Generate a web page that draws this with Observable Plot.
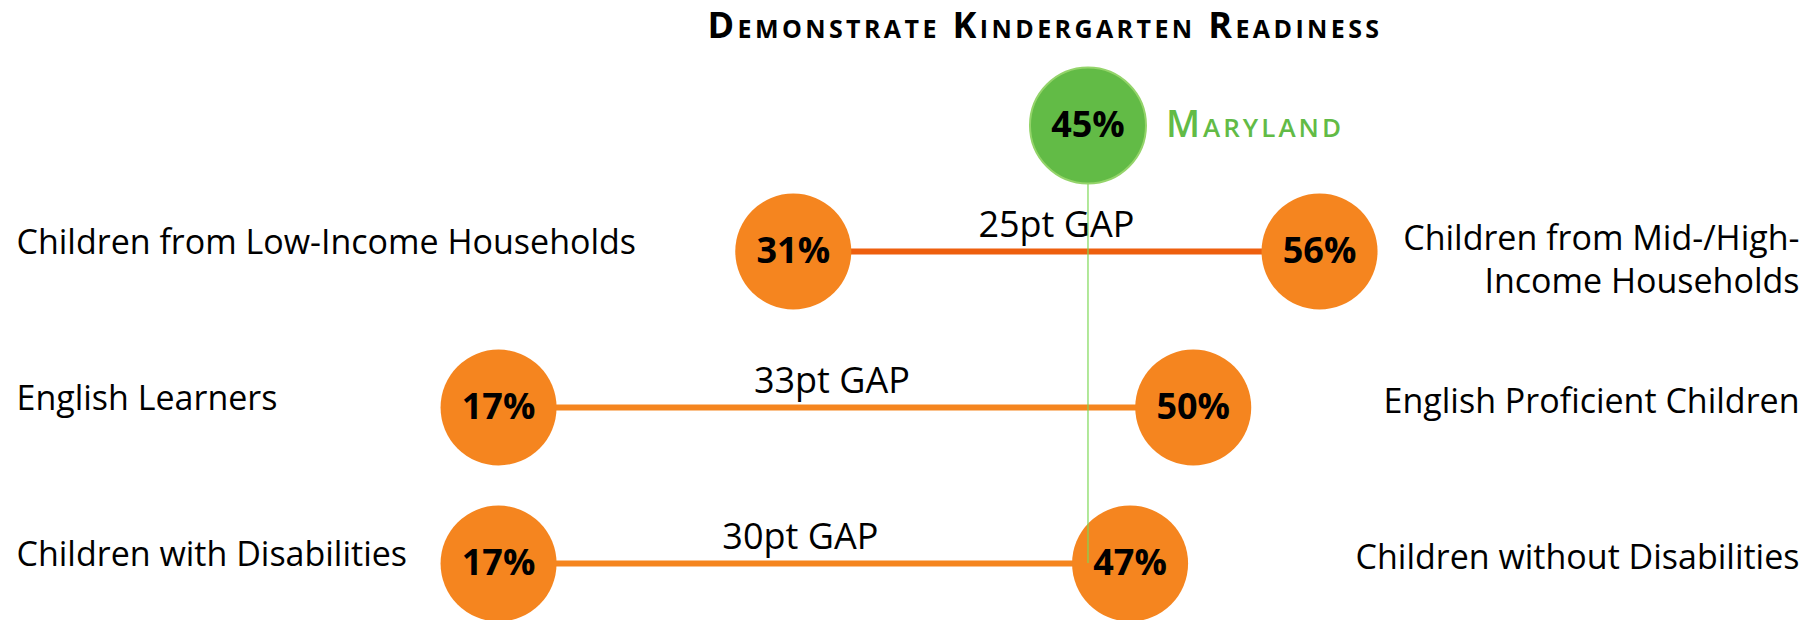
<!DOCTYPE html>
<html>
<head>
<meta charset="utf-8">
<script src="https://cdn.jsdelivr.net/npm/d3@7"></script>
<script src="https://cdn.jsdelivr.net/npm/@observablehq/plot@0.6"></script>
<style>
  html, body { margin: 0; padding: 0; background: #fff; }
  #wrap { width: 1820px; height: 620px; position: relative; overflow: hidden; }
  #title { position: relative; height: 50px; width: 1820px; }
  #title span {
    position: absolute; left: 1045px; top: 5px; transform: translateX(-50%);
    font-family: "Open Sans", sans-serif; font-weight: bold; font-size: 36px; letter-spacing: 3.4px;
    font-variant: small-caps; color: #000; white-space: nowrap; line-height: 40px;
  }
  #chart svg { display: block; }
</style>
</head>
<body>
<div id="wrap">
  <div id="title"><span>Demonstrate Kindergarten Readiness</span></div>
  <div id="chart"></div>
</div>
<script>
// ---- data ----
const rows = ["income", "english", "disability"];
const leftLabels = ["Children from Low-Income Households", "English Learners", "Children with Disabilities"];
const rightLabels = ["Children from Mid-/High-\nIncome Households", "English Proficient Children", "Children without Disabilities"];
const leftValues = [31, 17, 17];
const rightValues = [56, 50, 47];
const stateName = "Maryland";
const stateValue = 45;

const table = rows.map((r, i) => ({
  row: r,
  leftLabel: leftLabels[i],
  rightLabel: rightLabels[i],
  left: leftValues[i],
  right: rightValues[i],
  gap: `${rightValues[i] - leftValues[i]}pt GAP`
}));
const points = table.flatMap(d => [{row: d.row, v: d.left}, {row: d.row, v: d.right}]);

const orange = "#F5851F";
const darkOrange = "#EE5F0E";
const green = "#62BB46";
const font = "'Open Sans', sans-serif";
const stateOffset = -126; // Maryland row sits above the first group row

const gapText = (data, dx) => Plot.text(data, {x: d => (d.left + d.right) / 2, y: "row", text: "gap",
  lineAnchor: "bottom", dy: -15, dx, fontSize: 36, fill: "#000"});

const chart = Plot.plot({
  width: 1820,
  height: 570,
  marginLeft: 16,
  marginRight: 21,
  marginTop: 0,
  marginBottom: 0,
  style: {fontFamily: font, background: "transparent", overflow: "visible"},
  x: {domain: [-5.9, 78.8], axis: null},
  y: {domain: rows, range: [201, 513], padding: 0, axis: null},
  marks: [
    Plot.ruleY(table, {
      y: "row", x1: "left", x2: "right", strokeWidth: 6,
      stroke: (d, i) => i === 0 ? darkOrange : orange
    }),
    Plot.dot(points, {x: "v", y: "row", r: 58, fill: orange, stroke: "none"}),
    Plot.ruleX([stateValue], {x: d => d, y1: () => rows[0], y2: () => rows[rows.length - 1],
      insetTop: stateOffset, stroke: "#7ED957", strokeWidth: 1.2}),
    Plot.dot([stateValue], {x: d => d, y: () => rows[0], dy: stateOffset, r: 58, fill: green, stroke: "#94D46A", strokeWidth: 2}),
    Plot.text([stateValue], {x: d => d, y: () => rows[0], dy: stateOffset, text: d => `${d}%`,
      fontSize: 36, fontWeight: "bold", fill: "#000"}),
    Plot.text([stateName], {x: () => stateValue, y: () => rows[0], dy: stateOffset, text: d => d, dx: 78, textAnchor: "start",
      fontSize: 37, fontWeight: 600, fill: green, fontVariant: "small-caps"}),
    Plot.text(points, {x: "v", y: "row", text: d => `${d.v}%`, fontSize: 36, fontWeight: "bold", fill: "#000"}),
    gapText(table.slice(0, 1), 0),
    gapText(table.slice(1), -14),
    Plot.text(table, {y: "row", text: "leftLabel", frameAnchor: "left", textAnchor: "start", dy: -8,
      fontSize: 34, fill: "#000"}),
    Plot.text(table.filter(d => !d.rightLabel.includes("\n")), {y: "row", text: "rightLabel", frameAnchor: "right",
      textAnchor: "end", dy: -5, fontSize: 34, fill: "#000"}),
    Plot.text(table.filter(d => d.rightLabel.includes("\n")), {y: "row", text: "rightLabel", frameAnchor: "right",
      textAnchor: "end", lineAnchor: "top", dy: -31, fontSize: 34, lineHeight: 1.24, fill: "#000"})
  ]
});
d3.select(chart).selectAll("text")
  .filter(function() { return this.textContent === stateName; })
  .style("letter-spacing", "3px");
document.getElementById("chart").appendChild(chart);
</script>
</body>
</html>
